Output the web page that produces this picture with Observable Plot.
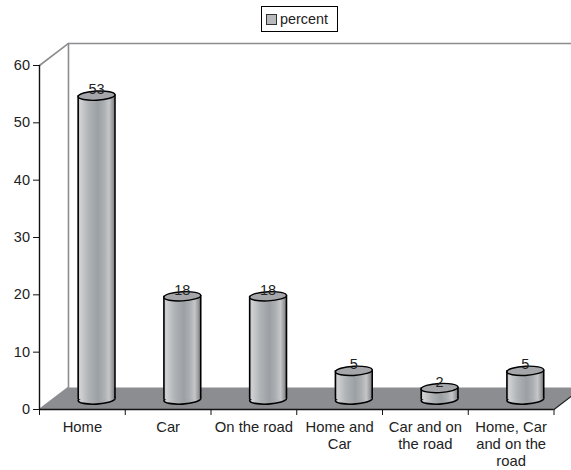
<!DOCTYPE html>
<html><head><meta charset="utf-8">
<script src="https://cdn.jsdelivr.net/npm/d3@7"></script>
<script src="https://cdn.jsdelivr.net/npm/@observablehq/plot@0.6"></script>
<style>
html,body{margin:0;padding:0;background:#fff}
#wrap{width:571px;height:470px;position:relative;overflow:hidden;font-family:"Liberation Sans",Arial,sans-serif}
#legend{height:35px;position:relative}
#legend .box{position:absolute;left:261px;top:6px;width:75px;height:24px;border:1px solid #000;display:flex;align-items:center;font-size:14.4px;color:#222}
#legend .sw{width:9px;height:9px;margin:0 3px 0 4px;background:#b8babc;border:1px solid #333}
svg{display:block}
</style></head><body>
<div id="wrap">
<svg width="0" height="0" style="position:absolute"><defs>
<linearGradient id="cyl" x1="0" x2="1" y1="0" y2="0">
<stop offset="0" stop-color="#b4b6b9"/><stop offset="0.08" stop-color="#cfd1d3"/>
<stop offset="0.3" stop-color="#b0b3b6"/><stop offset="0.55" stop-color="#9c9fa3"/>
<stop offset="0.72" stop-color="#adb0b3"/><stop offset="0.85" stop-color="#c4c6c8"/>
<stop offset="0.95" stop-color="#97999c"/><stop offset="1" stop-color="#77797c"/>
</linearGradient></defs></svg>
<div id="legend"><div class="box"><span class="sw"></span><span id="lt"></span></div></div>
<div id="chart"></div>
</div>
<script>
const seriesName = "percent";
const categories = ["Home","Car","On the road","Home and\nCar","Car and on\nthe road","Home, Car\nand on the\nroad"];
const values = [53,18,18,5,2,5];
const yTicks = [0,10,20,30,40,50,60];
document.getElementById("lt").textContent = seriesName;

const rows = categories.map((c,i)=>({i, c, v:values[i], mid:i+0.5, a:i, b:i+1}));
// 3D depth expressed in data units
const depthX = 0.338, depthY = 3.84;
const dx = 14.2, dy = -10, halfW = 18.4, inset = 24.4, tilt = 0.05;
const ellipse = {draw(ctx){
  const rx = halfW, ry = 4.6, k = 0.5523;
  const P = (x,y)=>[x, y - tilt*x];
  ctx.moveTo(...P(-rx,0));
  ctx.bezierCurveTo(...P(-rx,-ry*k),...P(-rx*k,-ry),...P(0,-ry));
  ctx.bezierCurveTo(...P(rx*k,-ry),...P(rx,-ry*k),...P(rx,0));
  ctx.bezierCurveTo(...P(rx,ry*k),...P(rx*k,ry),...P(0,ry));
  ctx.bezierCurveTo(...P(-rx*k,ry),...P(-rx,ry*k),...P(-rx,0));
  ctx.closePath();
}};
const floorPts = [[0,0],[depthX,depthY],[6+depthX,depthY],[6,0]];
const wallPts = [[0,60],[depthX,60+depthY],[depthX,depthY],[0,0]];
const backTop = [[depthX,60+depthY],[6+depthX,60+depthY]];
const edgePts = [[6,0],[6+depthX,depthY]];
const gray = "#8b8d90";

const plot = Plot.plot({
  width:571, height:435,
  marginLeft:39, marginRight:17.5, marginTop:30, marginBottom:61,
  style:{fontFamily:"'Liberation Sans',Arial,sans-serif", fontSize:"14px", color:"#222", overflow:"hidden"},
  x:{domain:[0,6], axis:null},
  y:{domain:[0,60], axis:null},
  marks:[
    Plot.line(floorPts,{x:"0",y:"1",fill:gray,stroke:"none"}),
    Plot.line(wallPts,{x:"0",y:"1",stroke:gray,strokeWidth:1.6}),
    Plot.line(backTop,{x:"0",y:"1",stroke:gray,strokeWidth:1.6}),
    Plot.line(edgePts,{x:"0",y:"1",stroke:"#222",strokeWidth:1.2}),
    // bottom of the cylinder
    Plot.dot(rows,{x:"mid",y:0,symbol:ellipse,dx,dy,fill:"url(#cyl)",stroke:"#000",strokeWidth:1.6}),
    // body
    Plot.rectY(rows,{x1:"a",x2:"b",y1:0,y2:"v",insetLeft:inset,insetRight:inset,dx,dy,fill:"url(#cyl)"}),
    Plot.ruleX(rows,{x:"mid",y1:0,y2:"v",dx:dx-halfW,dy,stroke:"#000",strokeWidth:1.6}),
    Plot.ruleX(rows,{x:"mid",y1:0,y2:"v",dx:dx+halfW,dy:dy-0.8,stroke:"#000",strokeWidth:1.6}),
    // top of the cylinder
    Plot.dot(rows,{x:"mid",y:"v",symbol:ellipse,dx,dy,fill:"#a4a6a9",stroke:"#000",strokeWidth:1.4}),
    Plot.text(rows,{x:"mid",y:"v",text:d=>String(d.v),dx,dy:dy-6,fontSize:14.5,fill:"#222"}),
    // axes
    Plot.ruleX([0],{y1:0,y2:60,stroke:"#111",strokeWidth:1.4}),
    Plot.ruleY([0],{x1:0,x2:6,stroke:"#111",strokeWidth:1.4}),
    Plot.axisY({ticks:yTicks,tickSize:6,tickPadding:3.5,label:null,fontSize:14.5,stroke:"#111"}),
    Plot.axisX({ticks:d3.range(0,7),tickSize:6,tickFormat:()=>"",label:null,stroke:"#111"}),
    Plot.text(rows,{x:"mid",y:0,text:"c",dy:10,lineAnchor:"top",lineHeight:1.17,fontSize:14.8,fill:"#222"})
  ]
});
document.getElementById("chart").appendChild(plot);
</script>
</body></html>
